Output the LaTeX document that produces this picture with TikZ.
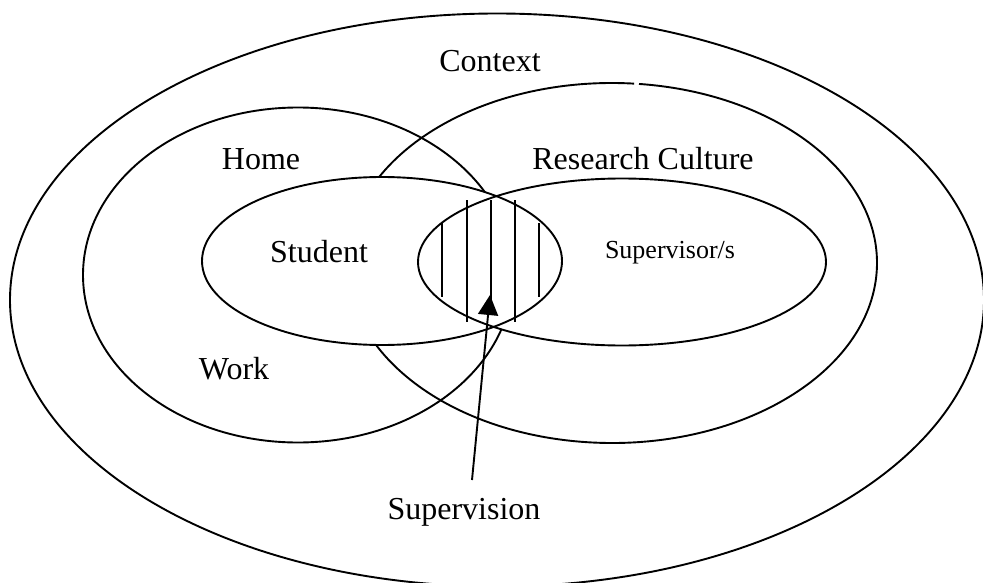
\documentclass[tikz,border=0pt]{standalone}
\usepackage{fontspec}
\setmainfont{Liberation Serif}
\usetikzlibrary{arrows.meta}
\begin{document}
\begin{tikzpicture}[x=1pt,y=-1pt,
  ring/.style={line width=1.9pt},
  hatch/.style={line width=1.9pt},
  biglabel/.style={font=\fontsize{32}{38}\selectfont, anchor=base, inner sep=0pt},
  smalllabel/.style={font=\fontsize{26}{31}\selectfont, anchor=base, inner sep=0pt},
  pointer/.style={line width=1.9pt, -{Triangle[length=20pt,width=20pt]}}]
\useasboundingbox (0,0) rectangle (983,583);

% centres of the rings
\coordinate (ctx) at (497,300);
\coordinate (home) at (298,275);
\coordinate (rc) at (612,263);
\coordinate (stu) at (382,261);
\coordinate (sup) at (622,262);

% context, home/work, research culture
\draw[ring] (ctx) ellipse [x radius=487, y radius=286.5];
\draw[ring] (home) ellipse [x radius=215, y radius=167.5];
\draw[ring] ([shift={(-84.15:265 and 180)}]rc) arc [start angle=-84.15, end angle=274.8, x radius=265, y radius=180];

% student and supervisor/s: opaque, outlines on top of both fills
\fill[white] (stu) ellipse [x radius=180, y radius=84];
\fill[white] (sup) ellipse [x radius=204, y radius=83.5];
\draw[ring] (stu) ellipse [x radius=180, y radius=84];
\draw[ring] (sup) ellipse [x radius=204, y radius=83.5];

% hatching of the overlap
\draw[hatch] (442,223) -- (442,297);
\draw[hatch] (467,200) -- (467,322);
\draw[hatch] (491,200) -- (491,300);
\draw[hatch] (515,200) -- (515,322);
\draw[hatch] (539,223) -- (539,297);

% labels
\node[biglabel] (context) at (490,72) {Context};
\node[biglabel] (homelbl) at (261,170) {Home};
\node[biglabel] (rclbl) at (643,170) {Research Culture};
\node[biglabel] (student) at (319,262) {Student};
\node[smalllabel] (supervisor) at (670,258) {Supervisor/s};
\node[biglabel] (work) at (234,379) {Work};
\node[biglabel] (supervision) at (464,519) {Supervision};

% pointer into the overlap
\coordinate (tail) at (472,480);
\coordinate (tip) at (490,295);
\draw[pointer] (tail) -- (tip);
\end{tikzpicture}
\end{document}
